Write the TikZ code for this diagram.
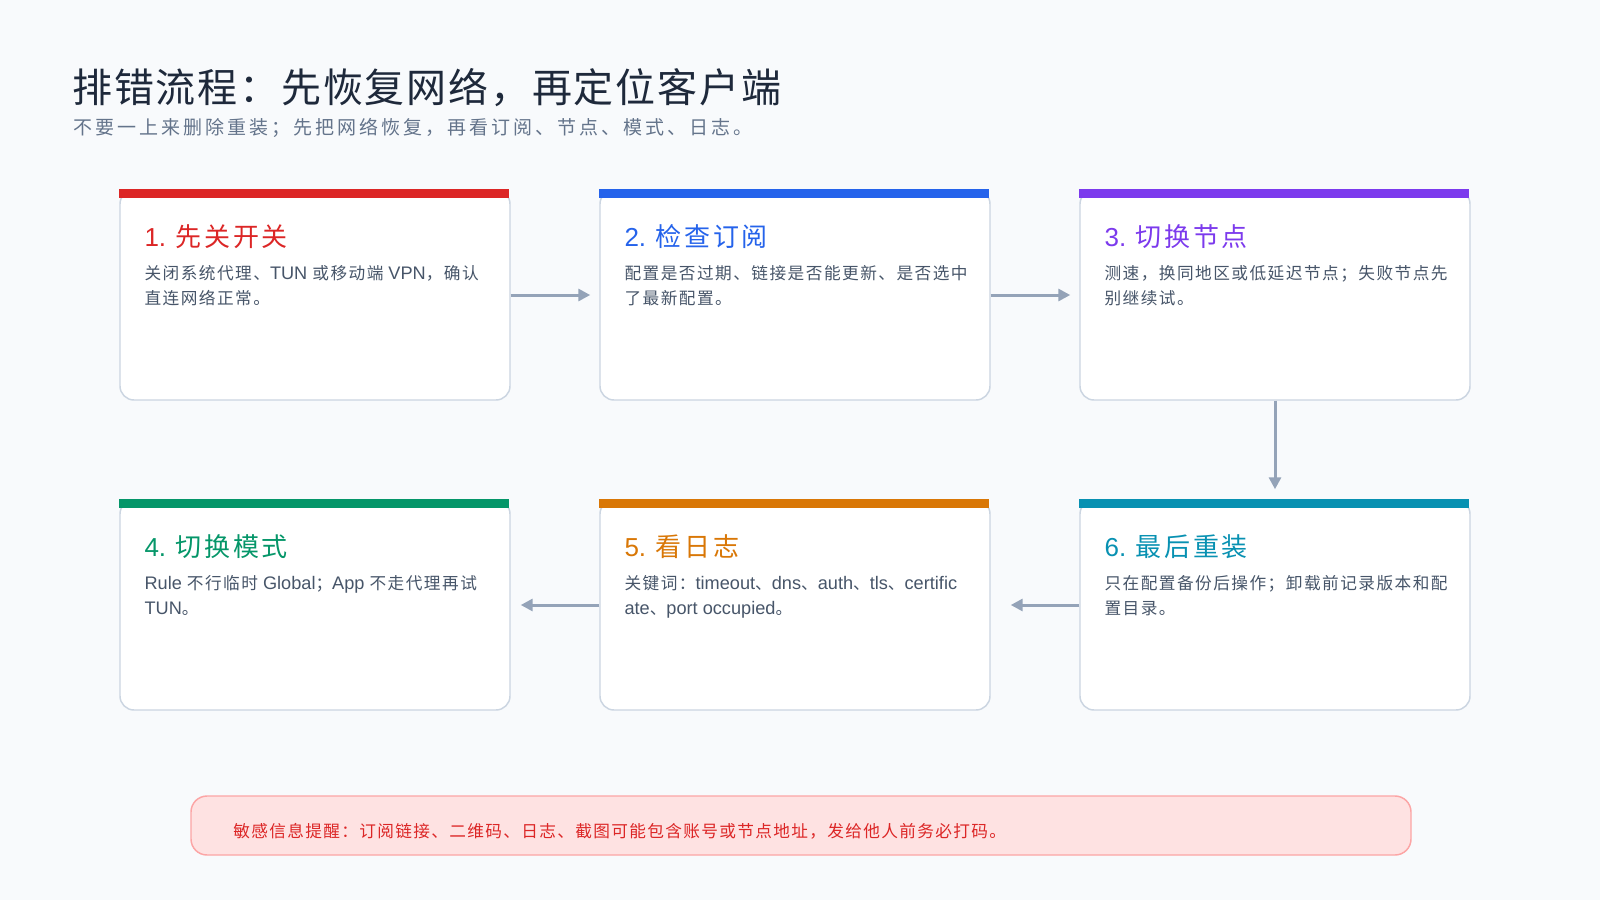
\documentclass[tikz,border=0pt]{standalone}
\usepackage{fontspec}
\setmainfont{Liberation Sans}
\newfontfamily\latf{Liberation Sans}
\newfontfamily\latfbig[Scale=1.09]{Liberation Sans}
\newfontfamily\cjkf{Noto Sans CJK SC}
\usetikzlibrary{arrows.meta,calc}
% automatic font switching between Latin and CJK characters
\newXeTeXintercharclass\cjkcls
\newcount\cjkcnt
\def\setcjkrange#1#2{\cjkcnt=#1\relax\loop\XeTeXcharclass\cjkcnt=\cjkcls\advance\cjkcnt by 1\relax\ifnum\cjkcnt<#2\relax\repeat}
\setcjkrange{"3000}{"3040}
\setcjkrange{"4E00}{"A000}
\setcjkrange{"FF00}{"FFF0}
\newdimen\cjkgap
\let\curlat\latf
\XeTeXinterchartoks 0 \cjkcls = {\cjkf}
\XeTeXinterchartoks 4095 \cjkcls = {\cjkf}
\XeTeXinterchartoks \cjkcls 0 = {\curlat}
\XeTeXinterchartoks \cjkcls 4095 = {\curlat}
\XeTeXinterchartoks 4095 0 = {\curlat}
\XeTeXinterchartoks \cjkcls \cjkcls = {\hskip\cjkgap\relax}
\newcommand\mixtext[2]{\XeTeXinterchartokenstate=1 \cjkgap=#1\relax\let\curlat#2}
\definecolor{bg}{HTML}{F8FAFC}
\definecolor{titlec}{HTML}{1E293B}
\definecolor{subc}{HTML}{64748B}
\definecolor{bodyc}{HTML}{475569}
\definecolor{borderc}{HTML}{CBD5E1}
\definecolor{arrc}{HTML}{94A3B8}
\definecolor{c1}{HTML}{DC2626}
\definecolor{c2}{HTML}{2563EB}
\definecolor{c3}{HTML}{7C3AED}
\definecolor{c4}{HTML}{059669}
\definecolor{c5}{HTML}{D97706}
\definecolor{c6}{HTML}{0891B2}
\definecolor{warnfill}{HTML}{FEE2E2}
\definecolor{warnline}{HTML}{FCA5A5}
\definecolor{warntext}{HTML}{DC2626}
\tikzset{
  card/.style={draw=borderc, fill=white, line width=1.1pt, rounded corners=10.5pt,
    minimum width=292.5pt, minimum height=157.5pt, inner sep=0pt},
  head/.style={inner sep=0pt, anchor=base west, font={\mixtext{2pt}{\latf}\fontsize{19.5pt}{23pt}\selectfont}},
  body/.style={inner sep=0pt, anchor=base west, text=bodyc, font={\mixtext{1.1pt}{\latfbig}\fontsize{12.5pt}{18pt}\selectfont}},
  arr/.style={draw=arrc, line width=2.25pt, -{Triangle[length=9pt,width=9pt]}},
  warnbox/.style={draw=warnline, fill=warnfill, line width=1.1pt, rounded corners=12pt,
    minimum width=915pt, minimum height=44.25pt, inner sep=0pt},
}
\newcommand\mkcard[7]{%
  \node[card] (#1) at (#2,#3) {};
  \fill[#4] (#1.north west) rectangle ++(390,9);
  \node[head,text=#4] (#1h) at ($(#1.north west)+(25,57)$) {#5};
  \node[body] (#1a) at ($(#1.north west)+(25,90)$) {#6};
  \node[body] (#1b) at ($(#1.north west)+(25,115)$) {#7};
}
\begin{document}
\begin{tikzpicture}[x=0.75pt,y=-0.75pt]
\fill[bg] (0,0) rectangle (1600,900);
\useasboundingbox (0,0) rectangle (1600,900);
\node[inner sep=0pt, anchor=base west, text=titlec, font={\mixtext{1.35pt}{\latf}\fontsize{30pt}{36pt}\selectfont}] (title) at (72,102) {排错流程：先恢复网络，再定位客户端};
\node[inner sep=0pt, anchor=base west, text=subc, font={\mixtext{2.25pt}{\latf}\fontsize{14.25pt}{18pt}\selectfont}] (sub) at (73,134) {不要一上来删除重装；先把网络恢复，再看订阅、节点、模式、日志。};
\mkcard{b1}{315}{295}{c1}{1. 先关开关}{关闭系统代理、TUN 或移动端 VPN，确认}{直连网络正常。}
\mkcard{b2}{795}{295}{c2}{2. 检查订阅}{配置是否过期、链接是否能更新、是否选中}{了最新配置。}
\mkcard{b3}{1275}{295}{c3}{3. 切换节点}{测速，换同地区或低延迟节点；失败节点先}{别继续试。}
\mkcard{b4}{315}{605}{c4}{4. 切换模式}{Rule 不行临时 Global；App 不走代理再试}{TUN。}
\mkcard{b5}{795}{605}{c5}{5. 看日志}{关键词：timeout、dns、auth、tls、certific}{ate、port occupied。}
\mkcard{b6}{1275}{605}{c6}{6. 最后重装}{只在配置备份后操作；卸载前记录版本和配}{置目录。}
\draw[arr, shorten >=6.75pt] (b1.east) -- (b2.west);
\draw[arr, shorten >=6.75pt] (b2.east) -- (b3.west);
\draw[arr, shorten >=7.5pt] (b3.south) -- (b6.north);
\draw[arr, shorten >=15pt] (b6.west) -- (b5.east);
\draw[arr, shorten >=7.5pt] (b5.west) -- (b4.east);
\node[warnbox] (warn) at (801,825.5) {};
\node[inner sep=0pt, anchor=base west, text=warntext, font={\mixtext{1pt}{\latf}\fontsize{12.5pt}{16pt}\selectfont}] (warntxt) at (233,837) {敏感信息提醒：订阅链接、二维码、日志、截图可能包含账号或节点地址，发给他人前务必打码。};
\end{tikzpicture}
\end{document}
